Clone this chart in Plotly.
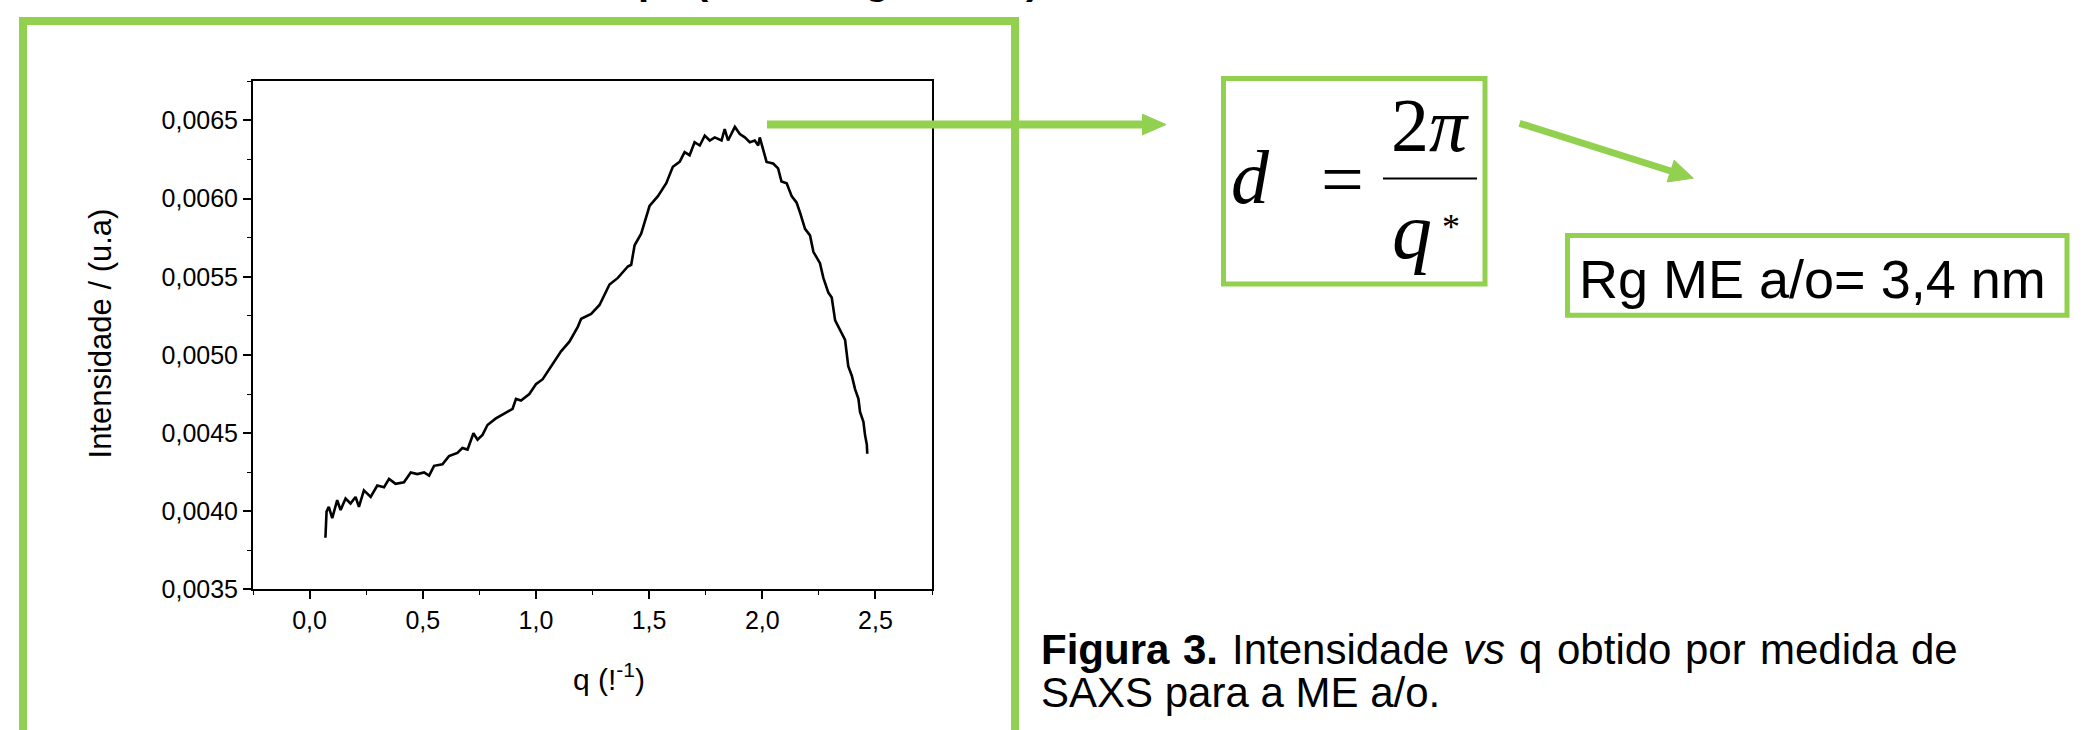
import plotly.graph_objects as go

W, H = 2087, 730
GREEN = "#92D050"

# ---- data ----
q_values = [0.070, 0.075, 0.085, 0.100, 0.122, 0.137, 0.159, 0.181, 0.203, 0.218,
            0.240, 0.270, 0.299, 0.329, 0.351, 0.380, 0.417, 0.447, 0.476, 0.506,
            0.528, 0.550, 0.587, 0.616, 0.653, 0.675, 0.698, 0.724, 0.742, 0.764,
            0.786, 0.823, 0.860, 0.897, 0.912, 0.934, 0.971, 1.000, 1.030, 1.067,
            1.111, 1.148, 1.185, 1.200, 1.244, 1.281, 1.325, 1.362, 1.406, 1.421,
            1.436, 1.465, 1.502, 1.539, 1.576, 1.605, 1.635, 1.657, 1.679, 1.701,
            1.724, 1.746, 1.768, 1.790, 1.820, 1.834, 1.849, 1.879, 1.901, 1.923,
            1.945, 1.967, 1.982, 1.989, 2.004, 2.019, 2.048, 2.070, 2.085, 2.108,
            2.130, 2.152, 2.167, 2.189, 2.211, 2.226, 2.255, 2.270, 2.292, 2.307,
            2.322, 2.344, 2.366, 2.380, 2.396, 2.410, 2.425, 2.432, 2.447, 2.454,
            2.462, 2.464]
intensity = [0.003831, 0.003998, 0.004029, 0.003956, 0.004071, 0.004008, 0.004082, 0.004050, 0.004092, 0.004029,
             0.004134, 0.004092, 0.004165, 0.004154, 0.004207, 0.004176, 0.004186, 0.004249, 0.004238, 0.004249,
             0.004228, 0.004291, 0.004301, 0.004353, 0.004374, 0.004405, 0.004395, 0.004499, 0.004458, 0.004489,
             0.004552, 0.004594, 0.004625, 0.004656, 0.004719, 0.004709, 0.004750, 0.004813, 0.004845, 0.004929,
             0.005023, 0.005085, 0.005180, 0.005232, 0.005263, 0.005320, 0.005451, 0.005493, 0.005566, 0.005577,
             0.005702, 0.005776, 0.005953, 0.006016, 0.006099, 0.006204, 0.006235, 0.006298, 0.006278, 0.006361,
             0.006340, 0.006403, 0.006372, 0.006392, 0.006372, 0.006445, 0.006372, 0.006459, 0.006413, 0.006392,
             0.006361, 0.006372, 0.006340, 0.006392, 0.006309, 0.006235, 0.006225, 0.006194, 0.006110, 0.006099,
             0.006016, 0.005974, 0.005911, 0.005807, 0.005765, 0.005660, 0.005587, 0.005493, 0.005399, 0.005368,
             0.005221, 0.005158, 0.005096, 0.004929, 0.004866, 0.004782, 0.004719, 0.004636, 0.004573, 0.004489,
             0.004427, 0.004368]

x_ticks = [0.0, 0.5, 1.0, 1.5, 2.0, 2.5]
y_ticks = [0.0035, 0.0040, 0.0045, 0.0050, 0.0055, 0.0060, 0.0065]

y_title = "Intensidade / (u.a)"
x_title = "q (!<sup>-1</sup>)"
result_text = "Rg ME a/o= 3,4 nm"
caption_words = ["<b>Figura</b>", "<b>3.</b>", "Intensidade", "<i>vs</i>", "q",
                 "obtido", "por", "medida", "de"]
caption_2 = "SAXS para a ME a/o."
heading_fragments = ["p", "(", "g", ")"]


def px(x):
    return x / W


def py(y):
    return 1 - y / H


fig = go.Figure()
fig.add_trace(go.Scatter(x=q_values, y=intensity, mode="lines",
                         line=dict(color="black", width=2.6), showlegend=False,
                         hoverinfo="skip"))

axis_common = dict(showgrid=False, zeroline=False, showline=True, linecolor="black",
                   linewidth=2, mirror=True, ticks="outside", ticklen=8, tickwidth=1.6,
                   tickcolor="black",
                   tickfont=dict(family="Liberation Sans, Arial", size=25, color="black"))

fig.update_layout(
    width=W, height=H,
    margin=dict(l=0, r=0, t=0, b=0),
    paper_bgcolor="white", plot_bgcolor="white",
    separators=", ",
    xaxis=dict(domain=[px(253), px(932)], range=[-0.25, 2.75], tickvals=x_ticks,
               tickformat=".1f",
               minor=dict(ticks="outside", ticklen=4, tickwidth=1.4, tickcolor="black", dtick=0.25, tick0=0),
               **axis_common),
    yaxis=dict(domain=[py(601), py(83)], range=[0.0035, 0.00675], tickvals=y_ticks,
               tickformat=".4f",
               minor=dict(ticks="outside", ticklen=4, tickwidth=1.4, tickcolor="black", dtick=0.00025, tick0=0.0035),
               **axis_common),
)

shapes = []
# large green frame around the chart (continues below the image)
shapes.append(dict(type="rect", xref="paper", yref="paper", x0=px(23), x1=px(1015),
                   y0=py(21.5), y1=py(770), line=dict(color=GREEN, width=8)))
# formula box
shapes.append(dict(type="rect", xref="paper", yref="paper", x0=px(1223.5), x1=px(1485),
                   y0=py(80), y1=py(289.5), line=dict(color=GREEN, width=5)))
# result box
shapes.append(dict(type="rect", xref="paper", yref="paper", x0=px(1567.5), x1=px(2067),
                   y0=py(240), y1=py(321.5), line=dict(color=GREEN, width=5)))
# fraction bar
shapes.append(dict(type="line", xref="paper", yref="paper", x0=px(1383), x1=px(1477),
                   y0=py(182), y1=py(182), line=dict(color="black", width=2)))
# arrow 1
shapes.append(dict(type="line", xref="paper", yref="paper", x0=px(767), x1=px(1146),
                   y0=py(127), y1=py(127), line=dict(color=GREEN, width=8)))
shapes.append(dict(type="path", xref="paper", yref="paper",
                   path=f"M {px(1166)},{py(127)} L {px(1142.5)},{py(116.5)} L {px(1142.5)},{py(137.5)} Z",
                   fillcolor=GREEN, line=dict(color=GREEN, width=1)))
# arrow 2
shapes.append(dict(type="line", xref="paper", yref="paper", x0=px(1519.6), x1=px(1673),
                   y0=py(125.7), y1=py(175.1), line=dict(color=GREEN, width=7)))
shapes.append(dict(type="path", xref="paper", yref="paper",
                   path=(f"M {px(1693.3)},{py(181.7)} L {px(1667.1)},{py(185.5)} "
                         f"L {px(1674.2)},{py(163.3)} Z"),
                   fillcolor=GREEN, line=dict(color=GREEN, width=1)))
fig.update_layout(shapes=shapes)

ann = []
SERIF = "Liberation Serif, Times New Roman"
SANS = "Liberation Sans, Arial"


def text(t, x, y, size, family=SANS, xanchor="center", yanchor="middle", angle=0, color="black"):
    ann.append(dict(text=t, x=px(x), y=py(y), xref="paper", yref="paper", showarrow=False,
                    xanchor=xanchor, yanchor=yanchor, textangle=angle, borderpad=0,
                    font=dict(family=family, size=size, color=color)))


# axis titles
text(y_title, 100, 340, 31, angle=-90)
text(x_title, 609, 690, 30)

# formula
text("<i>d</i>", 1250, 180, 76, family=SERIF)
text("=", 1342, 182, 76, family=SERIF)
text("2<i>π</i>", 1430, 127, 76, family=SERIF)
text("<i>q</i>", 1412, 236, 80, family=SERIF)
text("*", 1451, 231, 36, family=SERIF)

# result
text(result_text, 1578, 284, 54, xanchor="left")

# caption (first line justified: each word placed on the line)
word_left = [1040, 1182.4, 1231.3, 1462.4, 1518.3, 1555.7, 1684.0, 1758.7, 1910.3]
for w, xl in zip(caption_words, word_left):
    text(w, xl, 662, 42, xanchor="left")
text(caption_2, 1040, 706, 42, xanchor="left")

# partially visible heading text at the very top (cut off by the image edge)
for ch, cx in zip(heading_fragments, [650, 702, 877, 1032]):
    text(f"<b>{ch}</b>", cx, -20, 40)

fig.update_layout(annotations=ann)

fig.write_html("out.html", config={"displayModeBar": False},
               post_script="document.body.style.margin='0';document.body.style.overflow='hidden';")
